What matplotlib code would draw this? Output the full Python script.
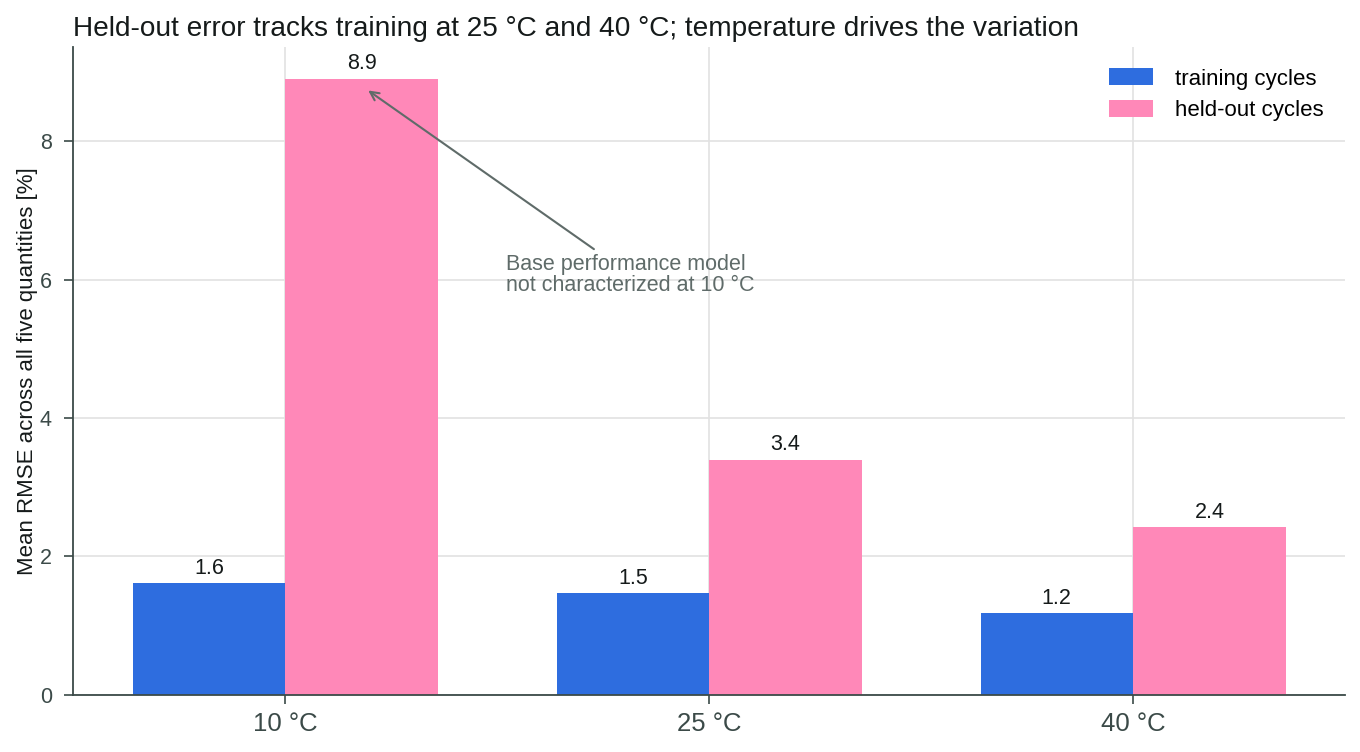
import numpy as np
import matplotlib.pyplot as plt

plt.rcParams['font.family'] = ['Liberation Sans', 'DejaVu Sans']

temps = ['10 °C', '25 °C', '40 °C']
training = [1.62, 1.47, 1.18]
heldout = [8.91, 3.40, 2.43]
train_labels = ['1.6', '1.5', '1.2']
held_labels = ['8.9', '3.4', '2.4']

blue = '#2e6ddf'
pink = '#ff88b8'
dark = '#3b4a48'

fig, ax = plt.subplots(figsize=(13.6, 7.52), dpi=100)
fig.subplots_adjust(left=0.054, right=0.989, top=0.937, bottom=0.076)

x = np.arange(len(temps))
w = 0.36
b1 = ax.bar(x - w / 2, training, w, color=blue, label='training cycles', zorder=2)
b2 = ax.bar(x + w / 2, heldout, w, color=pink, label='held-out cycles', zorder=2)

for bars, labs in [(b1, train_labels), (b2, held_labels)]:
    for b, lab in zip(bars, labs):
        ax.annotate(lab, (b.get_x() + b.get_width() / 2, b.get_height()),
                    xytext=(0, 3), textcoords='offset points',
                    ha='center', va='bottom', fontsize=15.5, color='#151a1a')

ax.annotate('Base performance model\nnot characterized at 10 °C',
            xy=(0.19, 8.76), xytext=(0.52, 6.38),
            ha='left', va='top', fontsize=15.5, color='#5f6b69',
            linespacing=1.0,
            arrowprops=dict(arrowstyle='->', color='#5f6b69', lw=1.5))

ax.set_xlim(-0.5, 2.5)
ax.set_ylim(0, 9.36)
ax.set_xticks(x)
ax.set_xticklabels(temps, fontsize=18.5, color=dark)
ax.set_yticks([0, 2, 4, 6, 8])
ax.tick_params(axis='y', labelsize=15.5, colors=dark, length=6.5, width=1.2, pad=9)
ax.tick_params(axis='x', colors=dark, length=6.5, width=1.2, pad=6)
ax.set_ylabel('Mean RMSE across all five quantities [%]', fontsize=16,
              color='#151a1a', labelpad=1)
ax.set_title('Held-out error tracks training at 25 °C and 40 °C; temperature drives the variation',
             loc='left', fontsize=20.2, color='#151a1a', pad=8)

ax.grid(True, color='#e2e2e2', lw=1.2, zorder=0)
ax.set_axisbelow(True)
for s in ['top', 'right']:
    ax.spines[s].set_visible(False)
for s in ['left', 'bottom']:
    ax.spines[s].set_color(dark)
    ax.spines[s].set_linewidth(1.3)

ax.legend(loc='upper right', frameon=False, fontsize=16, handlelength=2.0,
          handleheight=0.8, handletextpad=1.0, labelspacing=0.45,
          borderaxespad=0.55)

fig.savefig('out.png')
